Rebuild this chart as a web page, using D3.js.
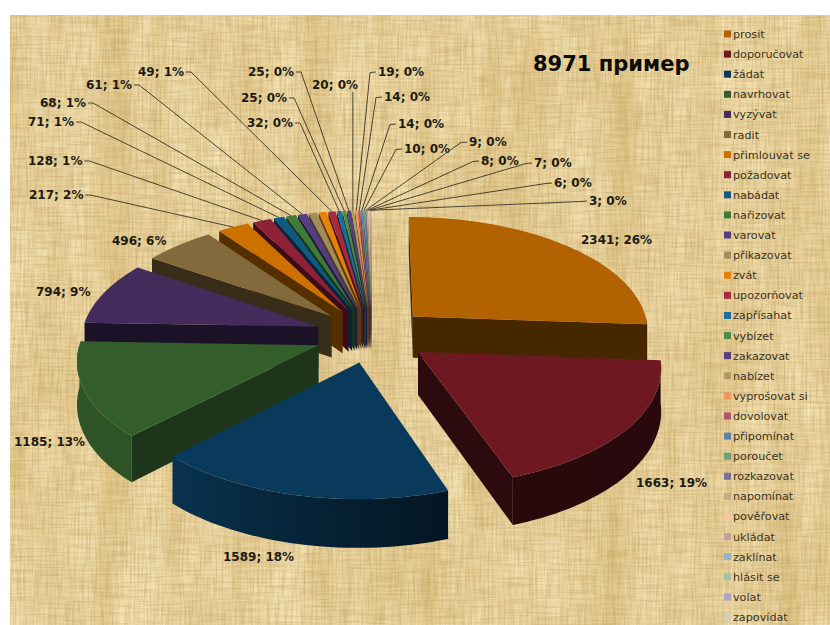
<!DOCTYPE html>
<html>
<head>
<meta charset="utf-8">
<script src="https://cdn.jsdelivr.net/npm/d3@7"></script>
<style>
html,body{margin:0;padding:0;background:#fff;}
svg{display:block;}
text{font-family:"DejaVu Sans",Verdana,sans-serif;}
</style>
</head>
<body>
<div id="chart"></div>
<script>
// Verbs of request and command with their example counts, most frequent first.
const verbs = ["prosit","doporučovat","žádat","navrhovat","vyzývat","radit","přimlouvat se","požadovat","nabádat","nařizovat","varovat","přikazovat","zvát","upozorňovat","zapřísahat","vybízet","zakazovat","nabízet","vyprošovat si","dovolovat","připomínat","poroučet","rozkazovat","napomínat","pověřovat","ukládat","zaklínat","hlásit se","volat","zapovídat"];
const counts = [2341,1663,1589,1185,794,496,217,128,71,68,61,57,54,49,32,25,25,20,19,14,14,10,9,8,7,6,3,3,2,1];
const titleText = "8971 пример";
const colours = ["#b26200","#6e1822","#093a5c","#335e2c","#432c5c","#826a3c","#cc7000","#8e2038","#0f5a82","#3d7b38","#563d83","#a48c5a","#e58208","#aa2a3d","#1b6e9f","#4b8d42","#553f80","#b3995e","#f0965a","#b0556b","#5a82ac","#6f9f75","#7c6f9e","#c4ad84","#f6c7a0","#c49fa0","#9bb0c4","#a5bfa3","#a9a5c6","#d6cdb8"];

// Where each value label sits: [slice index, text x, text baseline y, leader side].
const labelSpots = [
  [0,581,244,null],[1,636,487,null],[2,223,561,null],[3,14,446,null],[4,36,296,null],[5,112,245,null],
  [6,29,199,"l"],[7,28,165,"l"],[8,28,126,"l"],[9,40,107,"l"],[10,86,89,"l"],[13,138,76,"l"],
  [14,247,127,"l"],[15,241,102,"l"],[16,248,76,"l"],[17,312,89,"b"],[18,378,76,"r"],[19,384,101,"r"],
  [20,398,128,"r"],[21,404,153,"r"],[22,469,146,"r"],[23,481,165,"r"],[24,534,167,"r"],[25,554,187,"r"],[26,589,205,"r"]
];

const width = 830, height = 625;
const svg = d3.select("#chart").append("svg").attr("width", width).attr("height", height);
const defs = svg.append("defs");

// Woven papyrus backdrop: several stretched noise fields tinted brown or cream.
function weave(id, freq, octaves, seed, rgb, gain, offset) {
  const f = defs.append("filter").attr("id", id)
    .attr("x", 0).attr("y", 0).attr("width", 1).attr("height", 1)
    .attr("color-interpolation-filters", "sRGB");
  f.append("feTurbulence").attr("type", "fractalNoise")
    .attr("baseFrequency", freq).attr("numOctaves", octaves).attr("seed", seed);
  f.append("feColorMatrix").attr("type", "matrix").attr("values",
    `0 0 0 0 ${rgb[0]}  0 0 0 0 ${rgb[1]}  0 0 0 0 ${rgb[2]}  ${gain} 0 0 0 ${offset}`);
}
weave("streaks", "0.03 0.004", 3, 4, [0.78,0.62,0.3], 0.75, -0.28);
weave("threadsV", "0.5 0.03", 2, 9, [0.7,0.56,0.3], 0.8, -0.3);
weave("threadsH", "0.03 0.5", 2, 13, [0.74,0.6,0.34], 0.8, -0.3);
weave("glow", "0.012 0.018", 3, 21, [0.98,0.92,0.74], 1.4, -0.55);

const bg = svg.append("g");
const bgBox = {x:10, y:15, width:width-10, height:height-15};
bg.append("rect").attr("x",bgBox.x).attr("y",bgBox.y).attr("width",bgBox.width).attr("height",bgBox.height).attr("fill","#efdcaa");
["glow","streaks","threadsV","threadsH"].forEach(id => {
  bg.append("rect").attr("x",bgBox.x).attr("y",bgBox.y).attr("width",bgBox.width).attr("height",bgBox.height)
    .attr("filter",`url(#${id})`);
});

// Perspective projection of the unit pie plane onto the page.
const cx = 372, cy = 335, focal = 237, squash = 114.6, recede = 0.112, depth = 42, explode = 0.24;
const project = (X, Y) => {
  const w = 1 + recede * Y;
  return {x: cx + focal * X / w, y: cy - squash * Y / w, drop: depth / w};
};

const pie = d3.pie().sort(null).value(d => d).startAngle(0).endAngle(2 * Math.PI);
const arcs = pie(counts);
const colour = d3.scaleOrdinal().domain(verbs).range(colours);
const toRad = d => d * Math.PI / 180;

// Side walls catch more light when turned toward the left of the scene.
const wallLight = d3.scaleLinear().domain([0, 160, 225, 360].map(toRad)).range([0.42, 0.36, 0.88, 0.88]);
const cutLight = d3.scaleLinear().domain([0, 225, 250, 280, 360].map(toRad)).range([0.4, 0.4, 0.58, 0.42, 0.42]);
const shade = (c, k) => { const r = d3.rgb(c); return d3.rgb(r.r * k, r.g * k, r.b * k).formatHex(); };
const line = d3.line().x(p => p.x).y(p => p.y);
const lifted = ps => ps.map(p => ({x: p.x, y: p.y + p.drop}));

const slices = arcs.map((a, i) => {
  const mid = (a.startAngle + a.endAngle) / 2;
  const ox = explode * Math.sin(mid), oy = explode * Math.cos(mid);
  const n = Math.max(2, Math.ceil((a.endAngle - a.startAngle) / 0.03));
  const rim = d3.range(n + 1).map(s => {
    const t = a.startAngle + (a.endAngle - a.startAngle) * s / n;
    const p = project(ox + Math.sin(t), oy + Math.cos(t));
    p.t = t;
    return p;
  });
  return {i, mid, apex: project(ox, oy), rim, tip: project(ox + Math.sin(mid), oy + Math.cos(mid))};
});

// Paint the farthest wedges first so nearer ones overlap them.
const pieLayer = svg.append("g");
slices.slice().sort((p, q) => Math.cos(q.mid) - Math.cos(p.mid)).forEach(s => {
  const g = pieLayer.append("g");
  const top = colour(verbs[s.i]);
  const cut = shade(top, cutLight(s.mid));
  const topPoly = [s.apex, ...s.rim];
  const outline = topPoly.map(p => [p.x, p.y]);

  // Outer wall: only the stretch of rim turned toward the viewer, shaded along x.
  const front = s.rim.filter(p => Math.cos(p.t) < 0.02);
  if (front.length > 1) {
    const x0 = d3.min(front, p => p.x), x1 = d3.max(front, p => p.x);
    const id = "wall" + s.i;
    const grad = defs.append("linearGradient").attr("id", id).attr("gradientUnits", "userSpaceOnUse")
      .attr("x1", x0).attr("x2", x1).attr("y1", 0).attr("y2", 0);
    front.slice().sort((a, b) => a.x - b.x).forEach(p => {
      grad.append("stop").attr("offset", (p.x - x0) / (x1 - x0)).attr("stop-color", shade(top, wallLight(p.t)));
    });
    g.append("path").attr("d", line([...front, ...lifted(front).reverse()]) + "Z")
      .attr("fill", `url(#${id})`);
  }

  // Straight cut faces, kept only when the ground below the edge is outside the top face.
  [s.rim[0], s.rim[s.rim.length - 1]].forEach(edge => {
    const probe = [(s.apex.x + edge.x) / 2, (s.apex.y + edge.y) / 2 + 1.5];
    if (d3.polygonContains(outline, probe)) return;
    const quad = [s.apex, edge, ...lifted([edge, s.apex])];
    g.append("path").attr("d", line(quad) + "Z").attr("fill", cut);
  });

  g.append("path").attr("d", line(topPoly) + "Z").attr("fill", top);
});

// Value labels and their elbowed leader lines.
const ink = "#1d1a12";
const labelLayer = svg.append("g");
labelSpots.forEach(([idx, x, y, side]) => {
  const pct = Math.round(counts[idx] / 8971 * 100);
  const t = labelLayer.append("text").attr("x", x).attr("y", y)
    .attr("font-size", 12).attr("font-weight", 700).attr("fill", ink)
    .text(`${counts[idx]}; ${pct}%`);
  if (!side) return;
  const len = t.node().getComputedTextLength();
  const end = slices[idx].tip;
  let pts;
  if (side === "l") pts = [[x + len + 2, y - 4], [x + len + 7, y - 4], [end.x, end.y]];
  else if (side === "r") pts = [[x - 2, y - 4], [x - 8, y - 3.5], [end.x, end.y]];
  else pts = [[end.x, y + 3], [end.x, end.y]];
  labelLayer.append("path").attr("d", d3.line()(pts)).attr("fill", "none")
    .attr("stroke", "#4a4230").attr("stroke-width", 1);
});

svg.append("text").attr("x", 533).attr("y", 71)
  .attr("font-size", 21).attr("font-weight", 700).attr("fill", "#0c0c08").text(titleText);

// Legend column at the right edge.
const legendY = d3.scalePoint().domain(verbs).range([34, 617]);
const legend = svg.append("g").selectAll("g").data(verbs).join("g")
  .attr("transform", d => `translate(724,${legendY(d)})`);
legend.append("rect").attr("x", 0).attr("y", -3.5).attr("width", 7).attr("height", 7)
  .attr("fill", d => colour(d));
legend.append("text").attr("x", 9).attr("y", 4).attr("font-size", 11.2)
  .attr("fill", "#3a3325").text(d => d);
</script>
</body>
</html>
